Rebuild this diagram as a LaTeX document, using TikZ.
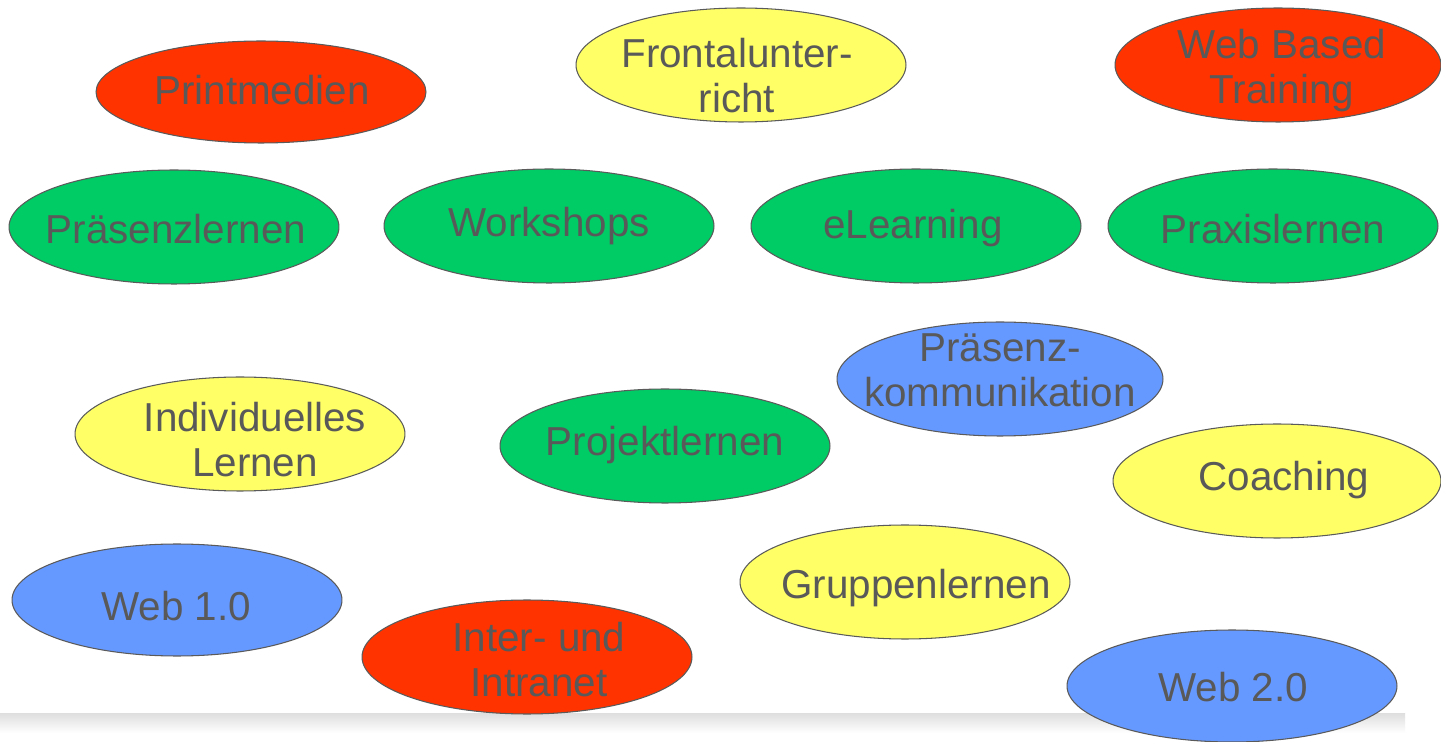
\documentclass[tikz,border=0pt]{standalone}
\usepackage{fontspec}
\setmainfont{Liberation Sans}
\usetikzlibrary{shapes}
\definecolor{bred}{HTML}{FF3300}
\definecolor{byellow}{HTML}{FFFF66}
\definecolor{bgreen}{HTML}{00CC66}
\definecolor{bblue}{HTML}{6699FF}
\definecolor{txtgray}{HTML}{595959}
\definecolor{rimgray}{HTML}{5A5A5A}
\begin{document}
\begin{tikzpicture}[x=0.02cm,y=0.02cm]
\tikzset{blob/.style = {shape=ellipse,draw=rimgray,line width=0.6pt,inner sep=0pt,minimum width=6.6cm,minimum height=2.28cm}}
\tikzset{lbl/.style = {text=txtgray,align=center,inner sep=0pt,font=\fontsize{23pt}{25.6pt}\selectfont}}
\useasboundingbox (0,0) rectangle (1441,741);
\fill[white] (0,0) rectangle (1441,741);
\shade[top color=black!13,bottom color=white] (0,8) rectangle (1405,28);

\node[blob,fill=bred,minimum height=2.04cm] (pm) at (261,649) {};
\node[blob,fill=byellow] (fu) at (741,676) {};
\node[blob,fill=bred,minimum width=6.52cm] (wbt) at (1278,676) {};
\node[blob,fill=bgreen] (pl) at (174,514) {};
\node[blob,fill=bgreen] (ws) at (549,515) {};
\node[blob,fill=bgreen] (el) at (916,515) {};
\node[blob,fill=bgreen] (px) at (1273,515) {};
\node[blob,fill=bblue,minimum width=6.52cm] (pk) at (1000,362) {};
\node[blob,fill=byellow] (il) at (240,307) {};
\node[blob,fill=bgreen] (pj) at (665,295) {};
\node[blob,fill=byellow,minimum width=6.56cm] (co) at (1277,260) {};
\node[blob,fill=bblue,minimum height=2.24cm] (w1) at (177,141) {};
\node[blob,fill=byellow] (gl) at (905,159) {};
\node[blob,fill=bred] (ii) at (527,84) {};
\node[blob,fill=bblue,minimum height=2.24cm] (w2) at (1232,55) {};

\node[lbl] (pm-t) at (262,651) {Printmedien};
\node[lbl] (fu-t) at (737,665) {Frontalunter-\\richt};
\node[lbl] (wbt-t) at (1282,670) {Web Based\\Training};
\node[lbl] (pl-t) at (176,512) {Präsenzlernen};
\node[lbl] (ws-t) at (549,515) {Workshops};
\node[lbl] (el-t) at (913,513) {eLearning};
\node[lbl] (px-t) at (1273,512) {Praxislernen};
\node[lbl] (pk-t) at (1000,371) {Präsenz-\\kommunikation};
\node[lbl] (il-t) at (255,301) {Individuelles\\Lernen};
\node[lbl] (pj-t) at (665,296) {Projektlernen};
\node[lbl] (co-t) at (1284,261) {Coaching};
\node[lbl] (w1-t) at (176,135) {Web 1.0};
\node[lbl] (gl-t) at (916,153) {Gruppenlernen};
\node[lbl] (ii-t) at (539,81) {Inter- und\\Intranet};
\node[lbl] (w2-t) at (1233,54) {Web 2.0};
\end{tikzpicture}
\end{document}
